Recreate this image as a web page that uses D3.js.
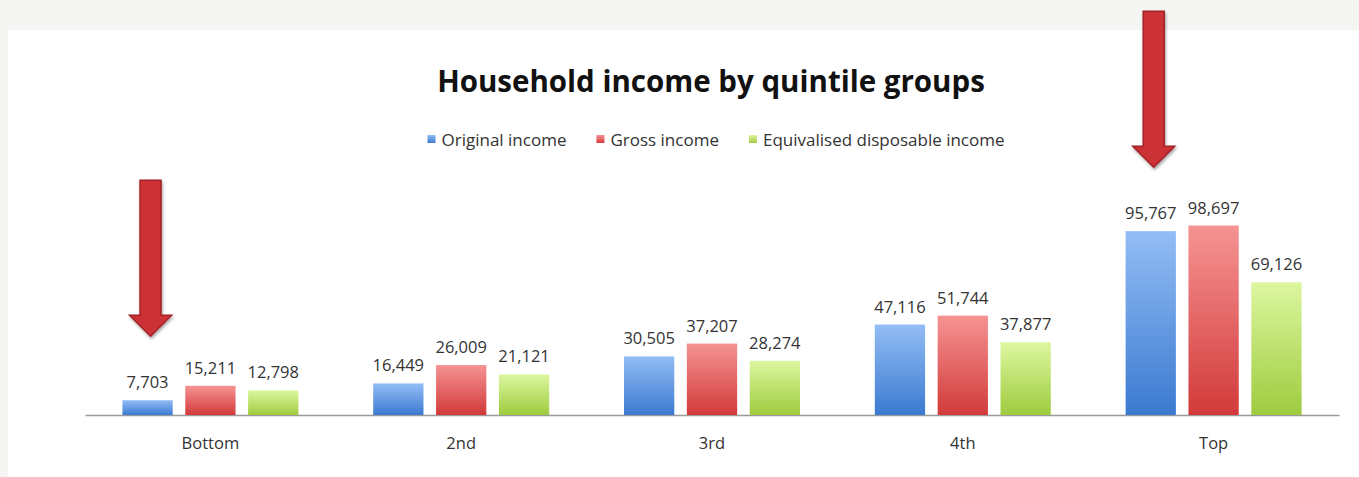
<!DOCTYPE html>
<html>
<head>
<meta charset="utf-8">
<script src="https://cdn.jsdelivr.net/npm/d3@7"></script>
<style>
  html, body { margin: 0; padding: 0; background: #f5f5f3; }
  svg { display: block; }
</style>
</head>
<body>
<svg id="chart" width="1359" height="477"></svg>
<script>
// ---- Data ----
const categories = ["Bottom", "2nd", "3rd", "4th", "Top"];
const seriesNames = ["Original income", "Gross income", "Equivalised disposable income"];
const originalIncome = [7703, 16449, 30505, 47116, 95767];
const grossIncome = [15211, 26009, 37207, 51744, 98697];
const equivalisedIncome = [12798, 21121, 28274, 37877, 69126];
const highlighted = [["Bottom", "Original income"], ["Top", "Original income"]];
const titleText = "Household income by quintile groups";

const seriesValues = [originalIncome, grossIncome, equivalisedIncome];
const colors = [
  { top: "#93bdf5", bottom: "#3b7ad0" },
  { top: "#f69393", bottom: "#d23a3a" },
  { top: "#dcf7a0", bottom: "#9fcb3e" }
];

const W = 1359, H = 477;
const svg = d3.select("#chart");
const font = "'Open Sans', Lato, sans-serif";

// background panel
svg.append("rect").attr("x", 0).attr("y", 0).attr("width", W).attr("height", H).attr("fill", "#f5f5f3");
svg.append("rect").attr("x", 8).attr("y", 30).attr("width", W - 8).attr("height", H - 30).attr("fill", "#ffffff");

const defs = svg.append("defs");
colors.forEach((c, i) => {
  const g = defs.append("linearGradient").attr("id", "grad" + i)
    .attr("x1", 0).attr("y1", 0).attr("x2", 0).attr("y2", 1);
  g.append("stop").attr("offset", "0%").attr("stop-color", c.top);
  g.append("stop").attr("offset", "100%").attr("stop-color", c.bottom);
});
const shadow = defs.append("filter").attr("id", "shadow")
  .attr("x", "-30%").attr("y", "-10%").attr("width", "160%").attr("height", "130%");
shadow.append("feDropShadow").attr("dx", 1).attr("dy", 2).attr("stdDeviation", 1.6)
  .attr("flood-color", "#000").attr("flood-opacity", 0.35);

// scales
const x0 = d3.scaleBand().domain(categories).range([85, 1339]).padding(0);
const x1 = d3.scaleBand().domain(seriesNames)
  .range([x0.bandwidth() / 2 - 88, x0.bandwidth() / 2 + 88]).paddingInner(0.2).paddingOuter(0);
const y = d3.scaleLinear().domain([0, 100000]).range([415, 223]);

// title
svg.append("text").attr("x", 711).attr("y", 92)
  .attr("text-anchor", "middle").attr("font-family", font)
  .attr("font-weight", "bold").attr("font-size", 29.5).attr("fill", "#111")
  .text(titleText);

// legend
const legend = svg.append("g").attr("font-family", font).attr("font-size", 17).attr("fill", "#333");
const items = [];
seriesNames.forEach((s, i) => {
  const g = legend.append("g");
  g.append("rect").attr("x", 0).attr("y", -11).attr("width", 8).attr("height", 8)
    .attr("fill", "url(#grad" + i + ")");
  const t = g.append("text").attr("x", 14).attr("y", 0).text(s);
  const w = 14 + t.node().getComputedTextLength();
  items.push({ g, w });
});
const gap = 30;
const totalW = d3.sum(items, d => d.w) + gap * (items.length - 1);
let lx = 716 - totalW / 2;
items.forEach(it => { it.g.attr("transform", `translate(${lx},146)`); lx += it.w + gap; });

// axis line
const axis = d3.axisBottom(x0).tickSize(0).tickPadding(22);
const ax = svg.append("g").attr("transform", `translate(0,${y(0)})`).call(axis);
ax.select(".domain").attr("stroke", "#9a9a9a").attr("stroke-width", 1.5);
ax.selectAll("text").attr("font-family", font).attr("font-size", 16.5).attr("fill", "#333");

// bars
const groups = svg.append("g").selectAll("g").data(categories).join("g")
  .attr("transform", d => `translate(${x0(d)},0)`);
groups.each(function (cat, ci) {
  const g = d3.select(this);
  seriesNames.forEach((s, si) => {
    const v = seriesValues[si][ci];
    g.append("rect")
      .attr("x", x1(s)).attr("y", y(v))
      .attr("width", x1.bandwidth()).attr("height", y(0) - y(v))
      .attr("fill", "url(#grad" + si + ")");
    g.append("text")
      .attr("x", x1(s) + x1.bandwidth() / 2).attr("y", y(v) - 12)
      .attr("text-anchor", "middle").attr("font-family", font)
      .attr("font-size", 16.5).attr("fill", "#333")
      .text(d3.format(",")(v));
  });
});

// annotation arrows
const arrowLen = 156, tipGap = 64, shaftW = 21, headW = 42, headL = 21;
highlighted.forEach(([cat, s]) => {
  const si = seriesNames.indexOf(s), ci = categories.indexOf(cat);
  const cx = x0(cat) + x1(s) + x1.bandwidth() / 2 + 3;
  const tip = y(seriesValues[si][ci]) - tipGap;
  const top = tip - arrowLen;
  const p = d3.path();
  p.moveTo(cx - shaftW / 2, top);
  p.lineTo(cx + shaftW / 2, top);
  p.lineTo(cx + shaftW / 2, tip - headL);
  p.lineTo(cx + headW / 2, tip - headL);
  p.lineTo(cx, tip);
  p.lineTo(cx - headW / 2, tip - headL);
  p.lineTo(cx - shaftW / 2, tip - headL);
  p.closePath();
  svg.append("path").attr("d", p.toString())
    .attr("fill", "#cc3336").attr("stroke", "#a52227").attr("stroke-width", 1.5)
    .attr("filter", "url(#shadow)");
});
</script>
</body>
</html>
